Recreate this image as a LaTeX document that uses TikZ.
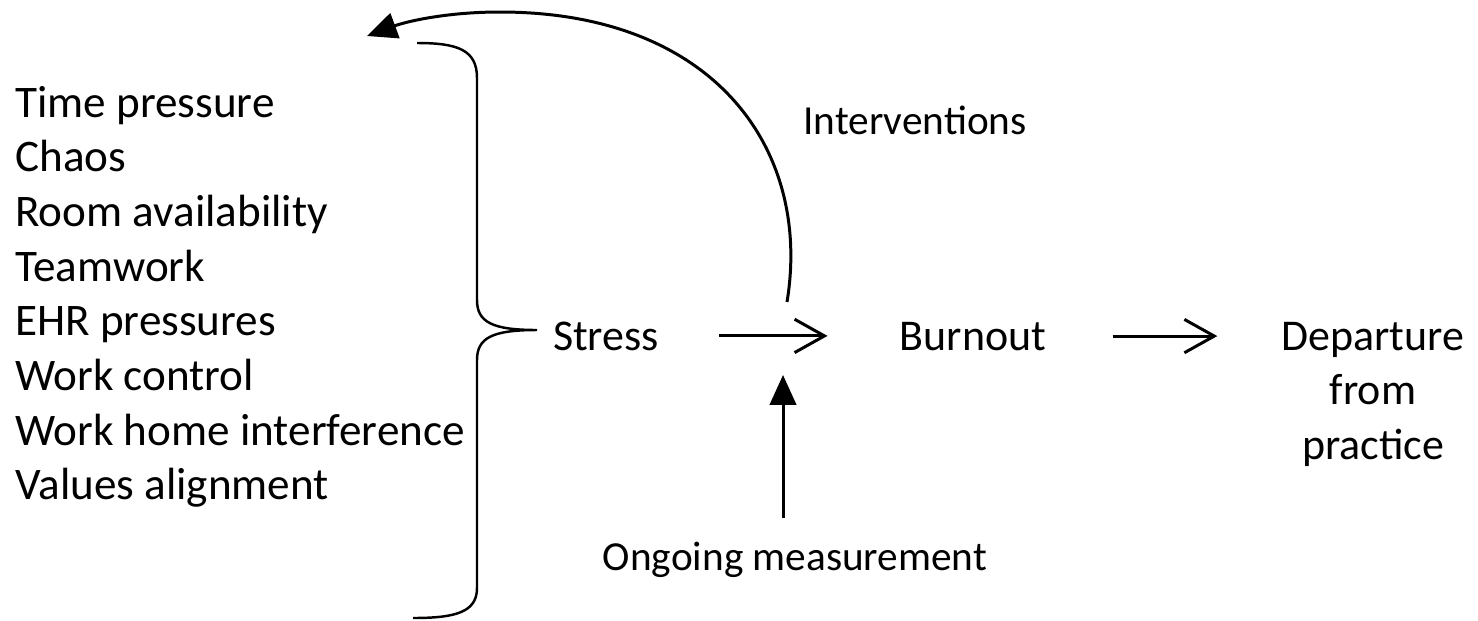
\documentclass[tikz,border=0pt]{standalone}
\usepackage{fontspec}
\setmainfont{Carlito}
\usepackage{tikz}
\usetikzlibrary{arrows.meta,positioning,calc}

\begin{document}
\begin{tikzpicture}[
    x=0.02cm, y=-0.02cm,
    lbl/.style={inner sep=0pt, font=\fontsize{25}{31}\selectfont},
    small/.style={inner sep=0pt, font=\fontsize{23.5}{29}\selectfont},
    factor/.style={inner sep=0pt, anchor=base west, font=\fontsize{25.7}{31}\selectfont},
    openarrow/.style={-{Straight Barb[length=17pt, width=19pt, line width=1.7pt]}, line width=1.7pt},
    tri/.style={-{Triangle[length=17pt, width=15pt]}, line width=1.7pt},
    brace/.style={line width=1.4pt},
]
    \useasboundingbox (0,0) rectangle (1478,620);

    \foreach \txt [count=\i] in {Time pressure, Chaos, Room availability, Teamwork,
        EHR pressures, Work control, Work home interference, Values alignment}
        \node[factor] (f\i) at (15, {117+54.7*(\i-1)}) {\txt};

    \node[lbl, anchor=base] (stress) at (606,350) {Stress};
    \node[lbl, anchor=base] (burnout) at (973,350) {Burnout};
    \node[lbl, anchor=base, align=center] (depart) at (1373,459)
         {Departure\\from\\practice};
    \node[small, anchor=base] (interv) at (915,134) {Interventions};
    \node[small, anchor=base] (meas) at (795,570) {Ongoing measurement};

    % brace gathering the factors
    \coordinate (bTip) at (537,330);
    \draw[brace] (417,43) .. controls (458,43) and (477,50) .. (477,78)
        -- (477,300) .. controls (477,322) and (492,330) .. (bTip)
        .. controls (492,330) and (477,338) .. (477,360)
        -- (477,588) .. controls (477,612) and (456,618) .. (413,618);

    \draw[openarrow, shorten <=1.2cm, shorten >=1.44cm]
         (stress.east) -- (stress.east -| burnout.west);
    \draw[openarrow, shorten <=1.32cm, shorten >=1.28cm]
         (burnout.east) -- (burnout.east -| depart.west);

    \coordinate (ivStart) at (787,302);
    \coordinate (ivTop) at (500,12);
    \coordinate (ivEnd) at (367,36);
    \draw[tri] (ivStart) .. controls (812,150) and (715,12) .. (ivTop)
        .. controls (445,12) and (405,22) .. (ivEnd);

    \coordinate (measFoot) at (783,518);
    \coordinate (measTip) at (783,375);
    \draw[tri] (measFoot) -- (measTip);
\end{tikzpicture}
\end{document}
